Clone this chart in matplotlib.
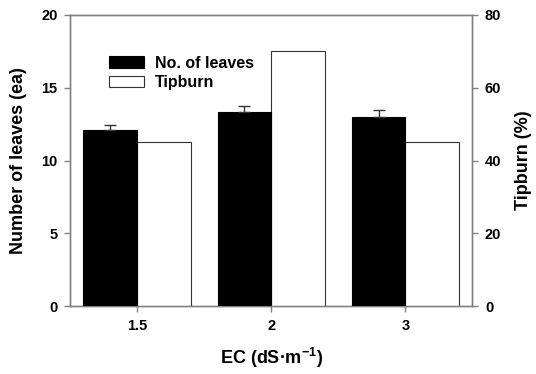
import numpy as np
import matplotlib.pyplot as plt

plt.rcParams['font.family'] = ['Liberation Sans', 'DejaVu Sans']
plt.rcParams['font.weight'] = 'bold'
plt.rcParams['mathtext.fontset'] = 'custom'
plt.rcParams['mathtext.rm'] = 'Liberation Sans:bold'
plt.rcParams['mathtext.bf'] = 'Liberation Sans:bold'
plt.rcParams['mathtext.default'] = 'bf'

# data
ec_labels = ['1.5', '2', '3']
leaves = [12.1, 13.3, 13.0]
leaves_err = [0.35, 0.45, 0.45]
tipburn = [45, 70, 45]

spine_col = '#808080'
x = np.arange(len(ec_labels))
w = 0.4

fig = plt.figure(figsize=(5.36, 3.74), dpi=100)
ax = fig.add_axes([0.1306, 0.1818, 0.7509, 0.7781])
ax2 = ax.twinx()

b1 = ax.bar(x - w / 2, leaves, width=w, color='black', edgecolor='black',
            linewidth=0.8, label='No. of leaves', zorder=3)
ax.errorbar(x - w / 2, leaves, yerr=[np.zeros(3), leaves_err], fmt='none',
            ecolor='#333333', elinewidth=1.0, capsize=4, capthick=1.0, zorder=4)
b2 = ax2.bar(x + w / 2, tipburn, width=w, color='white', edgecolor='#333333',
             linewidth=0.8, label='Tipburn', zorder=3)

ax.set_xlim(-0.5, 2.5)
ax.set_ylim(0, 20)
ax2.set_ylim(0, 80)
ax.set_yticks([0, 5, 10, 15, 20])
ax2.set_yticks([0, 20, 40, 60, 80])
ax.set_xticks(x)
ax.set_xticklabels(ec_labels)

for a in (ax, ax2):
    for s in a.spines.values():
        s.set_color(spine_col)
        s.set_linewidth(1.0)
    a.tick_params(direction='out', length=4, width=1.0, color=spine_col,
                  labelsize=10.5, pad=5)

ax.set_ylabel('Number of leaves (ea)', fontsize=13, fontweight='bold', labelpad=10)
ax2.set_ylabel('Tipburn (%)', fontsize=13, fontweight='bold', rotation=90, labelpad=10)
ax.set_xlabel('EC (dS·m$^{-1}$)', fontsize=13, fontweight='bold', labelpad=10)

ax.legend([b1, b2], ['No. of leaves', 'Tipburn'], loc='upper left',
          bbox_to_anchor=(0.06, 0.91), frameon=False, fontsize=11.5,
          handlelength=2.2, handleheight=0.7, handletextpad=0.7, labelspacing=0.3)

ax.set_zorder(ax2.get_zorder() + 1)
ax.patch.set_visible(False)

fig.savefig('out.png', dpi=100)
